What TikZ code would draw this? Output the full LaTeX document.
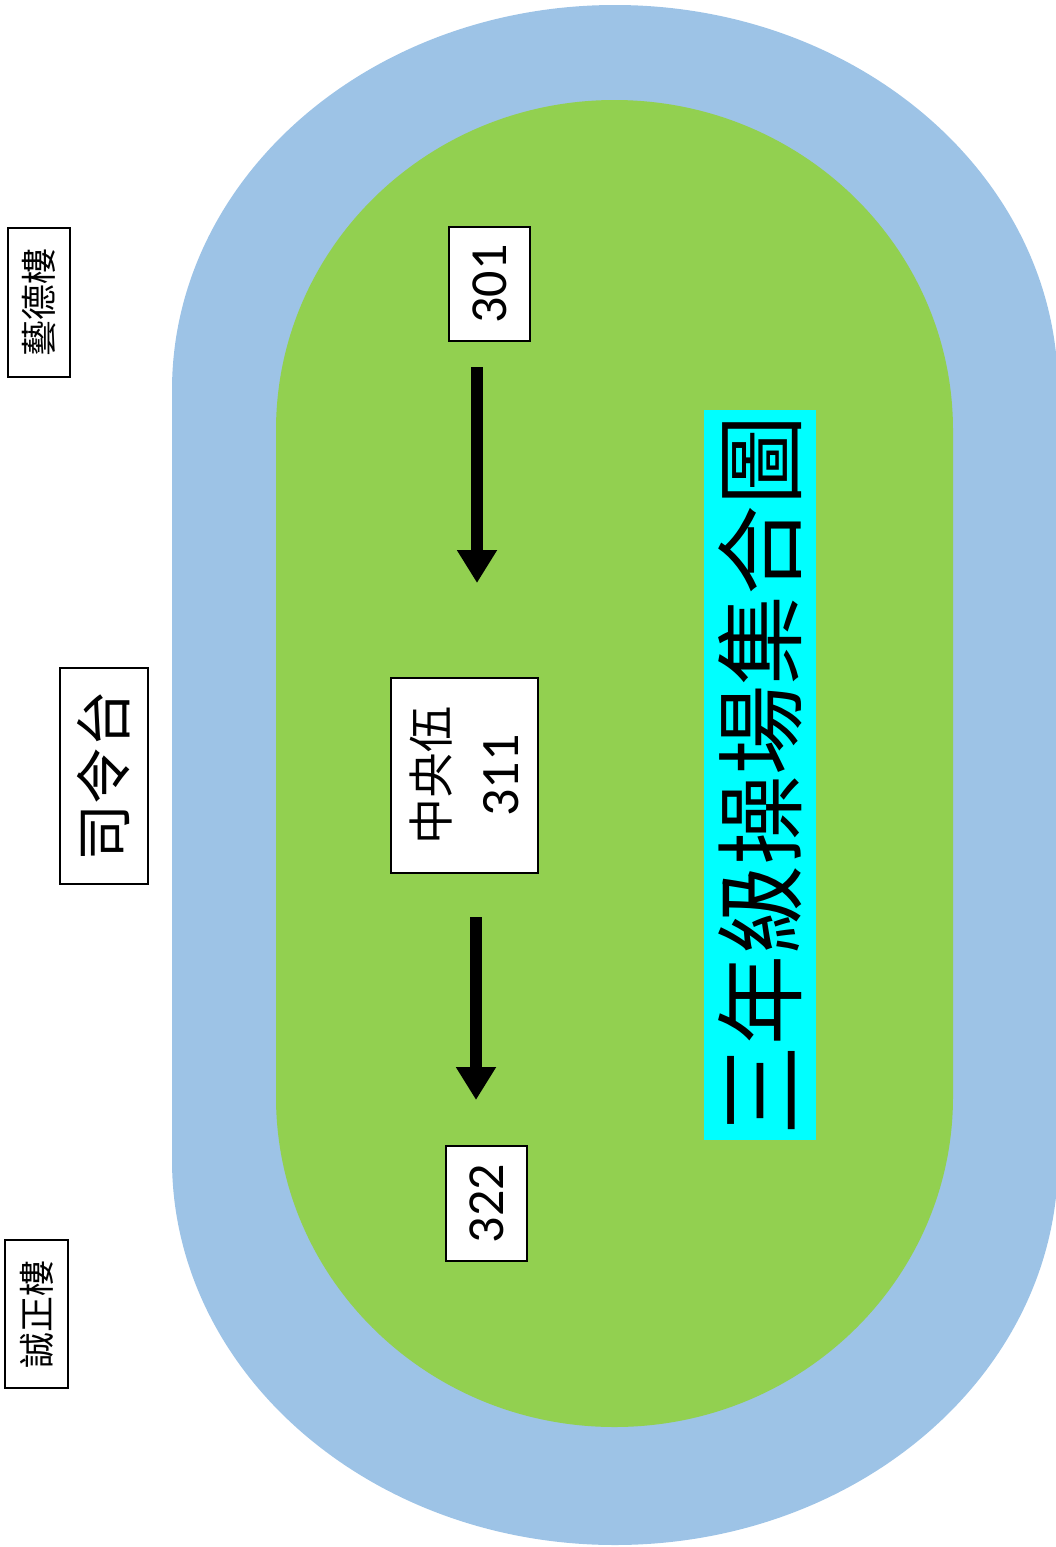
\documentclass[tikz,border=0pt]{standalone}
\usepackage{fontspec}
\setmainfont{Carlito}
\newfontfamily\cjk{Noto Sans CJK TC}
\usetikzlibrary{arrows.meta,positioning}
\definecolor{trackblue}{HTML}{9DC3E6}
\definecolor{fieldgreen}{HTML}{92D050}
\definecolor{titlecyan}{HTML}{00FFFF}

\begin{document}
\begin{tikzpicture}[
  x=1pt, y=1pt,
  box/.style={rectangle, draw, line width=1.5pt, fill=white, inner sep=0pt, rotate=90, align=center},
  arrow/.style={-{Triangle[width=38pt,length=33pt]}, line width=12pt}
]
\useasboundingbox (0,0) rectangle (1055,-1547);

% Track and field
\fill[trackblue] (172,-1160) arc[start angle=180, end angle=360, x radius=443, y radius=385]
  -- (1058,-390) arc[start angle=0, end angle=180, x radius=443, y radius=385] -- cycle;
\fill[fieldgreen] (276,-1097) arc[start angle=180, end angle=360, x radius=338.5, y radius=330]
  -- (953,-430) arc[start angle=0, end angle=180, x radius=338.5, y radius=330] -- cycle;

% Buildings
\node[box, minimum width=149, minimum height=62, font=\cjk\fontsize{36}{40}\selectfont] (yide) at (39,-302.5) {藝德樓};
\node[box, minimum width=216, minimum height=88, font=\cjk\fontsize{57}{60}\selectfont] (stage) at (104,-776) {司令台};
\node[box, minimum width=148, minimum height=63, font=\cjk\fontsize{36}{40}\selectfont] (chengzheng) at (36.5,-1314) {誠正樓};

% Classes
\node[box, minimum width=114, minimum height=81, font=\fontsize{52}{60}\selectfont] (n301) at (489.5,-284) {301};
\node[box, minimum width=195, minimum height=147, font=\fontsize{54}{70}\selectfont] (n311) at (464.5,-775.5) {{\cjk\fontsize{46}{70}\selectfont 中央伍}\\311};
\node[box, minimum width=115, minimum height=81, font=\fontsize{52}{60}\selectfont] (n322) at (486.5,-1203.5) {322};

% Title
\node[rectangle, fill=titlecyan, inner sep=0pt, rotate=90, minimum width=730, minimum height=112,
  font=\cjk\fontsize{90}{96}\selectfont] (title) at (760,-775) {三年級操場集合圖};

% Arrows
\coordinate (a1s) at (477,-367);
\coordinate (a1e) at (477,-583);
\coordinate (a2s) at (476,-917);
\coordinate (a2e) at (476,-1100);
\draw[arrow] (a1s) -- (a1e);
\draw[arrow] (a2s) -- (a2e);

\end{tikzpicture}
\end{document}
